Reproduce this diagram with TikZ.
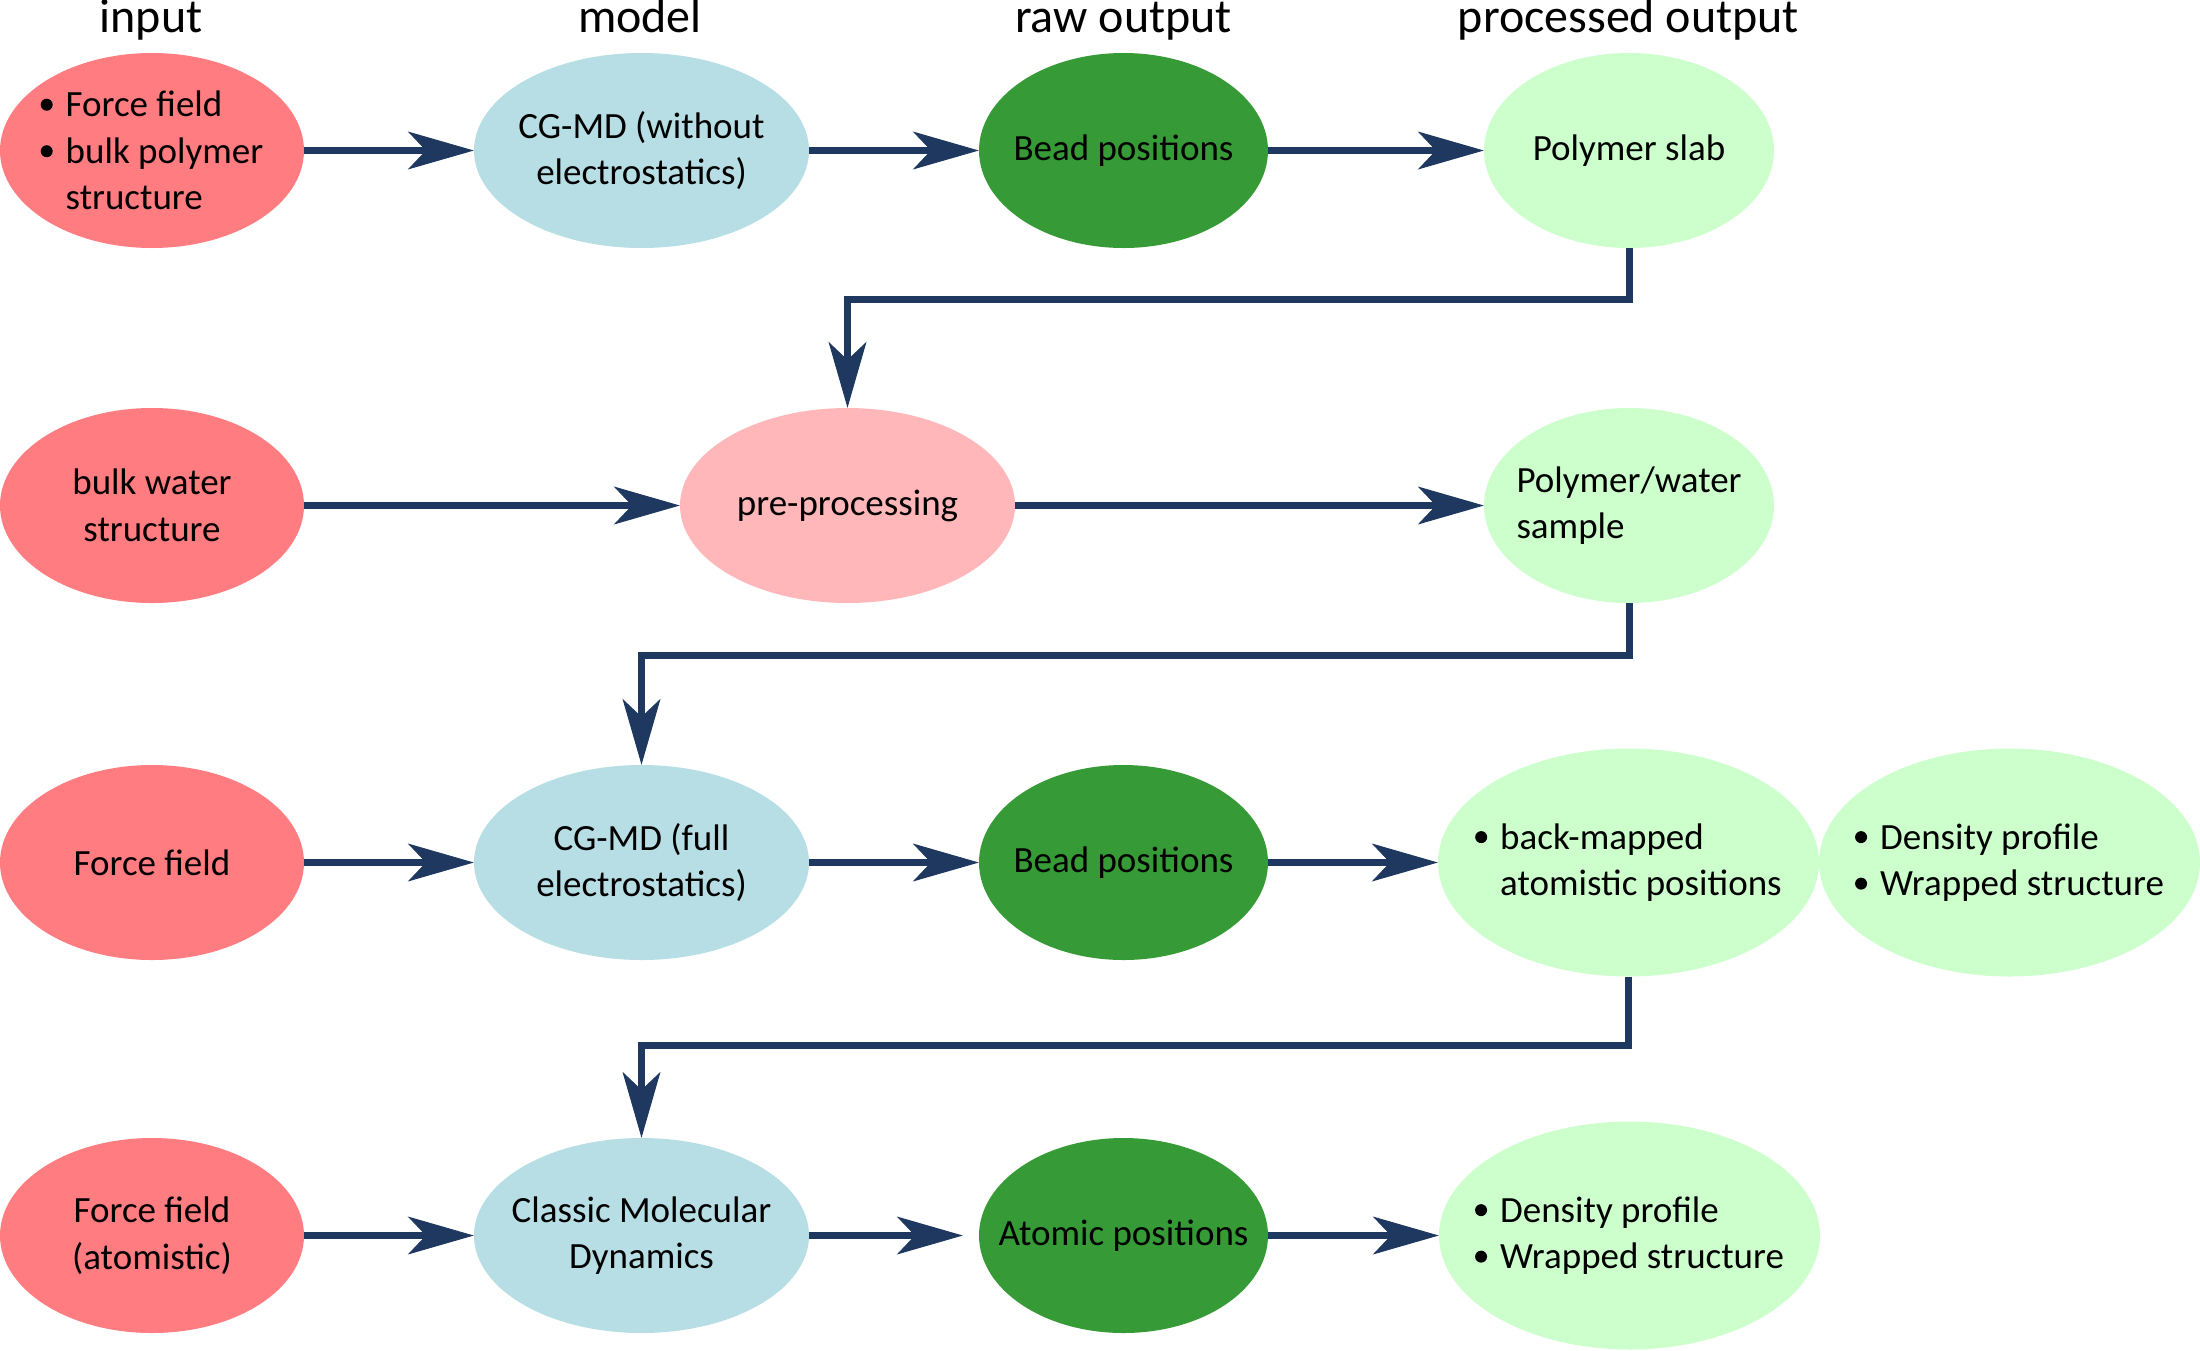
\documentclass[tikz,border=0pt]{standalone}
\usepackage{fontspec}
\setmainfont{Carlito}
\usetikzlibrary{shapes.geometric,arrows.meta}
\definecolor{inred}{RGB}{255,124,128}
\definecolor{modblue}{RGB}{183,221,229}
\definecolor{rawgreen}{RGB}{54,154,54}
\definecolor{procgreen}{RGB}{204,255,204}
\definecolor{prepink}{RGB}{255,183,185}
\definecolor{arrowblue}{RGB}{31,56,96}
\newcommand{\bul}{\makebox[25pt][l]{\tikz[baseline=0pt,x=1pt,y=1pt]\fill[black] (6,12) circle[radius=6];}}
\newcommand{\nobul}{\hspace*{25pt}}
\begin{document}
\begin{tikzpicture}[x=1pt,y=-1pt,
  blob/.style={ellipse, inner sep=0pt, draw=none},
  txtc/.style={font=\fontsize{37}{46.5}\selectfont, text=black, align=center, inner sep=0pt},
  txtl/.style={font=\fontsize{37}{46.5}\selectfont, text=black, align=left, inner sep=0pt},
  inpnode/.style={blob, fill=inred, minimum width=304pt, minimum height=195pt},
  mdlnode/.style={blob, fill=modblue, minimum width=335pt, minimum height=195pt},
  rawnode/.style={blob, fill=rawgreen, minimum width=289pt, minimum height=195pt},
  procnode/.style={blob, fill=procgreen, minimum width=290pt, minimum height=195pt},
  bignode/.style={blob, fill=procgreen, minimum width=381pt, minimum height=228pt},
  prenode/.style={blob, fill=prepink, minimum width=335pt, minimum height=195pt},
  hdr/.style={font=\fontsize{48}{58}\selectfont, anchor=base, inner sep=0pt},
  flow/.style={draw=arrowblue, line width=7pt,
    -{Stealth[length=66pt,width=38pt,inset=18pt,line width=1pt]}}
]
\useasboundingbox (0,0) rectangle (2200,1350);

% headers
\node[hdr] (h1) at (151,32) {input};
\node[hdr] (h2) at (640,32) {model};
\node[hdr] (h3) at (1123.5,32) {raw output};
\node[hdr] (h4) at (1628.5,32) {processed output};

% row 1
\node[inpnode, label={[txtl]center:{\bul Force field\\\bul bulk polymer\\\nobul structure}}] (in1) at (152,150.5) {};
\node[mdlnode, label={[txtc]center:{CG-MD (without\\electrostatics)}}] (m1) at (641.5,150.5) {};
\node[rawnode, label={[txtc]center:{Bead positions}}] (r1) at (1123.5,150.5) {};
\node[procnode, label={[txtc]center:{Polymer slab}}] (p1) at (1629,150.5) {};

% row 2
\node[inpnode, label={[txtc]center:{bulk water\\structure}}] (in2) at (152,505.5) {};
\node[prenode, label={[txtc]center:{pre-processing}}] (pre) at (847.5,505.5) {};
\node[procnode, label={[txtl]center:{Polymer/water\\sample}}] (p2) at (1629,505.5) {};

% row 3
\node[inpnode, label={[txtc]center:{Force field}}] (in3) at (152,862.5) {};
\node[mdlnode, label={[txtc]center:{CG-MD (full\\electrostatics)}}] (m3) at (641.5,862.5) {};
\node[rawnode, label={[txtc]center:{Bead positions}}] (r3) at (1123.5,862.5) {};
\node[bignode, label={[txtl]center:{\bul back-mapped\\\nobul atomistic positions}}] (p3) at (1628.5,862.5) {};
\node[bignode, label={[txtl]center:{\bul Density profile\\\bul Wrapped structure}}] (d3) at (2009.5,862.5) {};

% row 4
\node[inpnode, label={[txtc]center:{Force field\\(atomistic)}}] (in4) at (152,1235.5) {};
\node[mdlnode, label={[txtc]center:{Classic Molecular\\Dynamics}}] (m4) at (641.5,1235.5) {};
\node[rawnode, label={[txtc]center:{Atomic positions}}] (r4) at (1123.5,1235.5) {};
\node[bignode, label={[txtl]center:{\bul Density profile\\\bul Wrapped structure}}] (d4) at (1629.5,1235.5) {};

% connectors
\draw[flow] (in1) -- (m1);
\draw[flow] (m1) -- (r1);
\draw[flow] (r1) -- (p1);
\draw[flow] (p1.south) -- ++(0,51) -| (pre.north);

\draw[flow] (in2) -- (pre);
\draw[flow] (pre) -- (p2);
\draw[flow] (p2.south) -- ++(0,52) -| (m3.north);

\draw[flow] (in3) -- (m3);
\draw[flow] (m3) -- (r3);
\draw[flow] (r3) -- (p3);
\draw[flow] (p3.south) -- ++(0,68.5) -| (m4.north);

\draw[flow] (in4) -- (m4);
\draw[flow, shorten >=16pt] (m4) -- (r4);
\draw[flow] (r4) -- (d4);
\end{tikzpicture}
\end{document}
